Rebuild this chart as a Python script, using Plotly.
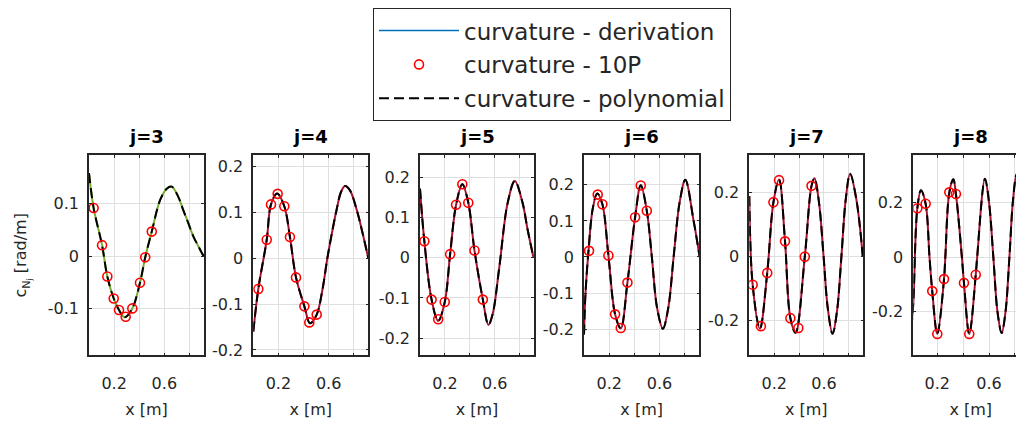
import plotly.graph_objects as go

# ---------------- data ----------------
titles = ["j=3", "j=4", "j=5", "j=6", "j=7", "j=8"]

# curvature curves (derivation and polynomial coincide in the picture)
curve_x_j3 = [0.0, 0.037, 0.104, 0.146, 0.197, 0.239, 0.285, 0.345, 0.406, 0.448, 0.5, 0.566, 0.619, 0.659, 0.712, 0.751, 0.791, 0.831, 0.871, 0.906, 0.916]
curve_y_j3 = [0.159, 0.092, 0.021, -0.039, -0.081, -0.103, -0.117, -0.100, -0.051, -0.002, 0.047, 0.107, 0.129, 0.133, 0.113, 0.088, 0.063, 0.038, 0.019, 0.003, 0.0]

curve_x_j4 = [0.0, 0.040, 0.107, 0.141, 0.19, 0.247, 0.292, 0.340, 0.407, 0.452, 0.505, 0.55, 0.59, 0.63, 0.664, 0.70, 0.731, 0.771, 0.824, 0.864, 0.916]
curve_y_j4 = [-0.160, -0.067, 0.040, 0.117, 0.141, 0.113, 0.046, -0.042, -0.105, -0.142, -0.123, -0.070, 0.0, 0.060, 0.106, 0.145, 0.157, 0.147, 0.105, 0.062, 0.0]

curve_x_j5 = [0.0, 0.035, 0.093, 0.146, 0.199, 0.242, 0.290, 0.340, 0.388, 0.438, 0.505, 0.55, 0.584, 0.637, 0.704, 0.762, 0.823, 0.863, 0.912]
curve_y_j5 = [0.172, 0.041, -0.104, -0.157, -0.110, 0.009, 0.132, 0.183, 0.137, 0.018, -0.104, -0.167, -0.140, -0.024, 0.136, 0.191, 0.138, 0.073, 0.0]

curve_x_j6 = [0.0, 0.012, 0.036, 0.07, 0.105, 0.146, 0.194, 0.247, 0.292, 0.345, 0.406, 0.451, 0.499, 0.539, 0.58, 0.627, 0.67, 0.712, 0.76, 0.805, 0.871, 0.919]
curve_y_j6 = [-0.215, -0.100, 0.018, 0.135, 0.176, 0.146, 0.004, -0.159, -0.198, -0.071, 0.110, 0.199, 0.128, 0.0, -0.140, -0.199, -0.140, 0.0, 0.152, 0.214, 0.100, 0.0]

curve_x_j7 = [0.0, 0.027, 0.085, 0.144, 0.194, 0.239, 0.287, 0.330, 0.372, 0.446, 0.500, 0.524, 0.56, 0.597, 0.63, 0.669, 0.705, 0.74, 0.775, 0.81, 0.86, 0.912]
curve_y_j7 = [0.190, -0.088, -0.226, -0.051, 0.171, 0.242, 0.048, -0.193, -0.239, 0.0, 0.222, 0.246, 0.170, 0.0, -0.160, -0.242, -0.170, 0.0, 0.180, 0.260, 0.180, 0.0]

curve_x_j8 = [0.0, 0.015, 0.046, 0.074, 0.110, 0.140, 0.161, 0.200, 0.252, 0.262, 0.293, 0.324, 0.344, 0.390, 0.406, 0.447, 0.497, 0.508, 0.568, 0.60, 0.633, 0.665, 0.697, 0.727, 0.757, 0.785, 0.813, 0.84, 0.87, 0.905]
curve_y_j8 = [-0.260, -0.164, 0.180, 0.246, 0.196, 0.0, -0.124, -0.281, -0.080, 0.0, 0.238, 0.286, 0.232, 0.0, -0.094, -0.281, -0.064, 0.0, 0.288, 0.200, 0.0, -0.200, -0.278, -0.200, 0.0, 0.210, 0.304, 0.250, 0.112, 0.0]

# 10-point (10P) curvature estimates
p10_x_j3 = [0.037, 0.104, 0.146, 0.197, 0.239, 0.292, 0.345, 0.406, 0.448, 0.500]
p10_y_j3 = [0.092, 0.021, -0.039, -0.081, -0.103, -0.116, -0.100, -0.051, -0.002, 0.047]

p10_x_j4 = [0.040, 0.107, 0.141, 0.194, 0.247, 0.292, 0.340, 0.407, 0.446, 0.505]
p10_y_j4 = [-0.067, 0.040, 0.117, 0.140, 0.113, 0.046, -0.042, -0.105, -0.140, -0.123]

p10_x_j5 = [0.035, 0.093, 0.146, 0.199, 0.242, 0.290, 0.340, 0.388, 0.438, 0.505]
p10_y_j5 = [0.041, -0.104, -0.153, -0.110, 0.009, 0.132, 0.183, 0.137, 0.018, -0.104]

p10_x_j6 = [0.040, 0.109, 0.146, 0.194, 0.247, 0.292, 0.345, 0.406, 0.451, 0.499]
p10_y_j6 = [0.017, 0.173, 0.146, 0.004, -0.159, -0.197, -0.071, 0.110, 0.198, 0.128]

p10_x_j7 = [0.027, 0.093, 0.144, 0.194, 0.239, 0.287, 0.330, 0.394, 0.446, 0.500]
p10_y_j7 = [-0.088, -0.218, -0.051, 0.171, 0.240, 0.048, -0.193, -0.224, 0.0, 0.222]

p10_x_j8 = [0.046, 0.110, 0.161, 0.200, 0.252, 0.293, 0.344, 0.406, 0.447, 0.497]
p10_y_j8 = [0.180, 0.196, -0.124, -0.281, -0.080, 0.238, 0.232, -0.094, -0.281, -0.064]

x_label_vals = [0.2, 0.6]
x_label_text = ["0.2", "0.6"]
x_minor_vals = [0.4, 0.8]
y_tick_vals = [
    [-0.1, 0.0, 0.1],
    [-0.2, -0.1, 0.0, 0.1, 0.2],
    [-0.2, -0.1, 0.0, 0.1, 0.2],
    [-0.2, -0.1, 0.0, 0.1, 0.2],
    [-0.2, 0.0, 0.2],
    [-0.2, 0.0, 0.2],
]
y_tick_text = [
    ["-0.1", "0", "0.1"],
    ["-0.2", "-0.1", "0", "0.1", "0.2"],
    ["-0.2", "-0.1", "0", "0.1", "0.2"],
    ["-0.2", "-0.1", "0", "0.1", "0.2"],
    ["-0.2", "0", "0.2"],
    ["-0.2", "0", "0.2"],
]

curves_x = [curve_x_j3, curve_x_j4, curve_x_j5, curve_x_j6, curve_x_j7, curve_x_j8]
curves_y = [curve_y_j3, curve_y_j4, curve_y_j5, curve_y_j6, curve_y_j7, curve_y_j8]
p10_x = [p10_x_j3, p10_x_j4, p10_x_j5, p10_x_j6, p10_x_j7, p10_x_j8]
p10_y = [p10_y_j3, p10_y_j4, p10_y_j5, p10_y_j6, p10_y_j7, p10_y_j8]

# ---------------- layout helpers ----------------
W, H = 1024, 428
OFF = 8  # the page body adds an 8 px margin; place everything 8 px up/left
FONT = "DejaVu Sans"
AX = "#262626"
GRID = "#dfdfdf"

ref_dom_px = [(89, 204), (253.3, 368.3), (420, 534), (584, 699.3), (749.3, 863.3), (913.3, 1028.3)]
dom_px = [(a - OFF, b - OFF) for a, b in ref_dom_px]
x_ranges = [[0, 0.916]] * 5 + [[0.0147, 0.903]]
y_ranges = [[-0.19, 0.193], [-0.212, 0.224], [-0.243, 0.255], [-0.273, 0.282], [-0.31, 0.318], [-0.36, 0.374]]
solid_colors = ["#77ac30"] + ["#a2142f"] * 5

y_dom = [1 - (358 - OFF) / H, 1 - (154 - OFF) / H]

fig = go.Figure()

# legend-only entry for the derivation line (blue in the legend)
fig.add_trace(go.Scatter(x=[None], y=[None], mode="lines", name="curvature - derivation",
                         line=dict(color="#0072bd", width=1.6), legendgroup="deriv",
                         legendrank=1, showlegend=True, xaxis="x", yaxis="y"))

for i in range(6):
    xa = "x" if i == 0 else f"x{i+1}"
    ya = "y" if i == 0 else f"y{i+1}"
    fig.add_trace(go.Scatter(x=curves_x[i], y=curves_y[i], mode="lines",
                             line=dict(color=solid_colors[i], width=2, shape="spline", smoothing=1.0),
                             name="curvature - derivation", legendgroup="deriv", showlegend=False,
                             xaxis=xa, yaxis=ya, hoverinfo="skip"))
    fig.add_trace(go.Scatter(x=curves_x[i], y=curves_y[i], mode="lines",
                             line=dict(color="black", width=2, dash="10px,5px", shape="spline", smoothing=1.0),
                             name="curvature - polynomial", legendgroup="poly", legendrank=3,
                             showlegend=(i == 0), xaxis=xa, yaxis=ya))
    fig.add_trace(go.Scatter(x=p10_x[i], y=p10_y[i], mode="markers",
                             marker=dict(symbol="circle-open", size=9, color="#ff0000",
                                         line=dict(width=1.6, color="#ff0000")),
                             name="curvature - 10P", legendgroup="p10", legendrank=2,
                             showlegend=(i == 0), xaxis=xa, yaxis=ya))

layout = dict(
    width=W, height=H, autosize=False,
    margin=dict(l=0, r=0, t=0, b=0),
    paper_bgcolor="white", plot_bgcolor="white",
    font=dict(family=FONT, color=AX, size=16),
    legend=dict(x=(373 - OFF) / W, y=1 - (4 - OFF) / H, xanchor="left", yanchor="top",
                bgcolor="white", bordercolor=AX, borderwidth=1,
                font=dict(family=FONT, size=23, color=AX),
                itemwidth=80, traceorder="grouped", tracegroupgap=1),
    annotations=[],
)

for i in range(6):
    xk = "xaxis" if i == 0 else f"xaxis{i+1}"
    yk = "yaxis" if i == 0 else f"yaxis{i+1}"
    xa = "x" if i == 0 else f"x{i+1}"
    ya = "y" if i == 0 else f"y{i+1}"
    layout[xk] = dict(
        domain=[dom_px[i][0] / W, dom_px[i][1] / W], anchor=ya,
        range=x_ranges[i], tickmode="array", tickvals=x_label_vals, ticktext=x_label_text,
        showgrid=True, gridcolor=GRID, gridwidth=1, zeroline=False,
        showline=True, linecolor=AX, linewidth=1.6, mirror="ticks",
        ticks="inside", ticklen=3, tickcolor=AX, tickwidth=1,
        minor=dict(tickmode="array", tickvals=x_minor_vals, showgrid=True, gridcolor=GRID,
                   gridwidth=1, ticks="inside", ticklen=3, tickcolor=AX, tickwidth=1),
        tickfont=dict(family=FONT, size=16, color=AX), ticklabelstandoff=13,
        title=dict(text="x [m]", font=dict(family=FONT, size=16, color=AX), standoff=11),
    )
    layout[yk] = dict(
        domain=y_dom, anchor=xa,
        range=y_ranges[i], tickmode="array", tickvals=y_tick_vals[i], ticktext=y_tick_text[i],
        showgrid=True, gridcolor=GRID, gridwidth=1, zeroline=False,
        showline=True, linecolor=AX, linewidth=1.6, mirror="ticks",
        ticks="inside", ticklen=3, tickcolor=AX, tickwidth=1,
        tickfont=dict(family=FONT, size=16, color=AX), ticklabelstandoff=5,
    )
    layout["annotations"].append(dict(
        text=f"<b>{titles[i]}</b>", xref="paper", yref="paper",
        x=(dom_px[i][0] + dom_px[i][1]) / 2 / W, y=1 - (135 - OFF) / H,
        xanchor="center", yanchor="middle", showarrow=False,
        font=dict(family=FONT, size=18, color="black")))

layout["yaxis"]["title"] = dict(text="c<sub>N<sub>j</sub></sub> [rad/m]",
                                font=dict(family=FONT, size=16, color=AX), standoff=17)

fig.update_layout(**layout)
fig.write_html("out.html")
